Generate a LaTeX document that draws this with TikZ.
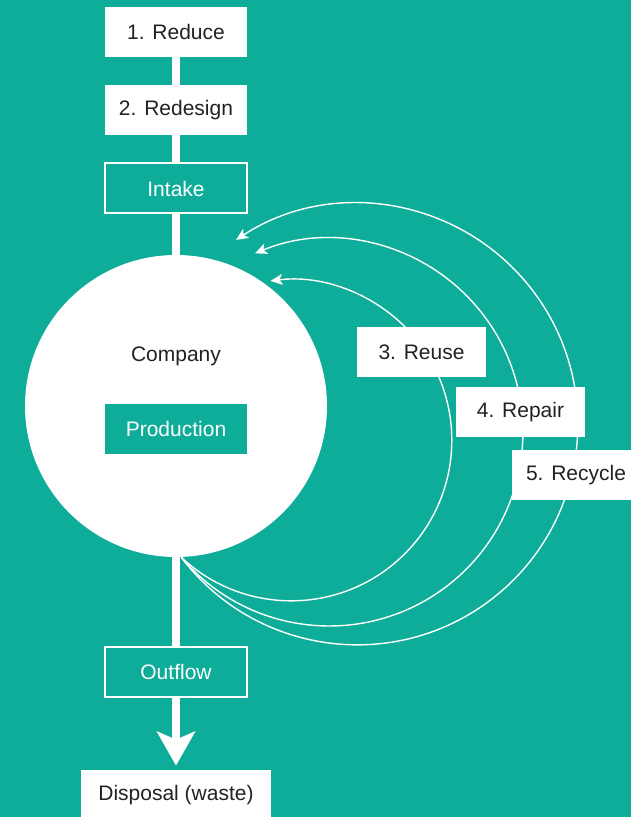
\documentclass[tikz,border=0pt]{standalone}
\usepackage{fontspec}
\setmainfont{Liberation Sans}
\usepackage{xcolor}
\usepackage{tikz}
\usetikzlibrary{shapes,arrows.meta}
\definecolor{bgteal}{HTML}{0DAD99}
\definecolor{ink}{HTML}{222222}
\tikzset{wbox/.style={rectangle,fill=white,text=ink,minimum width=71pt,minimum height=25pt,inner sep=0pt}}
\tikzset{obox/.style={rectangle,draw=white,line width=1pt,fill=bgteal,text=white,minimum width=71pt,minimum height=25pt,inner sep=0pt}}
\tikzset{tbox/.style={rectangle,fill=bgteal,text=white,minimum width=71pt,minimum height=25pt,inner sep=0pt}}
\tikzset{circ/.style={circle,fill=white,minimum size=151pt,inner sep=0pt}}
\tikzset{backarc/.style={draw=white,line width=0.7pt,-{Stealth[length=6pt,width=5.5pt,inset=1.5pt]}}}
\tikzset{trunk/.style={draw=white,line width=4pt}}

\begin{document}
\begin{tikzpicture}[x=0.5pt,y=0.5pt,font=\fontsize{10.5}{12}\selectfont]
        \fill[bgteal] (0,0) rectangle (631,-817);
        \useasboundingbox (0,0) rectangle (631,-817);

        \node[wbox] (reduce) at (176,-32) {1. Reduce};
        \node[wbox] (redesign) at (176,-110) {2. Redesign};
        \node[obox] (intake) at (176,-188.5) {Intake};
        \node[circ] (company) at (176,-406) {};
        \node[text=ink] (comptext) at (176,-356) {Company};
        \node[tbox] (production) at (176,-429) {Production};
        \node[obox] (outflow) at (176,-672) {Outflow};
        \node[wbox,minimum width=95pt] (disposal) at (176,-795) {Disposal (waste)};

        \draw [trunk] (reduce) to []node[]{} (redesign);
        \draw [trunk] (redesign) to []node[]{} (intake);
        \draw [trunk] (intake) to []node[]{} (company);
        \draw [trunk] (company.south) to []node[]{} (outflow);
        \draw [trunk,-{Stealth[length=17pt,width=19pt,inset=4pt]},shorten >=2pt] (outflow) to []node[]{} (disposal);

        \draw [backarc] (company.-88) arc[start angle=226.8,end angle=457.4,radius=80.3pt];
        \draw [backarc] (company.-88) arc[start angle=220.2,end angle=472.5,radius=96.85pt];
        \draw [backarc] (company.-88) arc[start angle=217.1,end angle=483.3,radius=110.3pt];

        \node[wbox,minimum width=64.5pt] (reuse) at (421.5,-352) {3. Reuse};
        \node[wbox,minimum width=64.5pt] (repair) at (520.5,-412) {4. Repair};
        \node[wbox,minimum width=64pt] (recycle) at (576,-475) {5. Recycle};
    \end{tikzpicture}
\end{document}
